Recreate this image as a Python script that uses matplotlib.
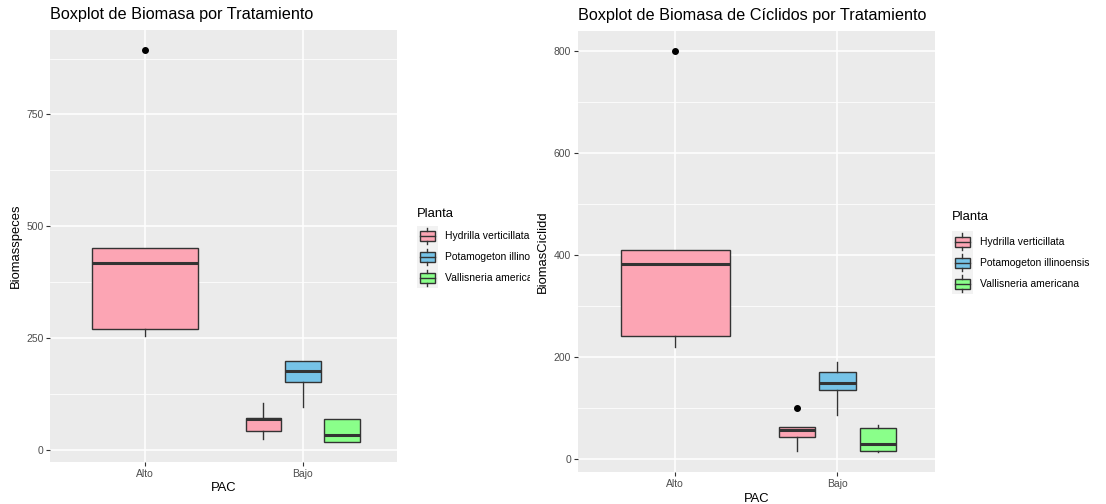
import matplotlib
matplotlib.use("Agg")
import matplotlib.pyplot as plt
import numpy as np
from matplotlib.patches import Rectangle
from matplotlib.lines import Line2D
from matplotlib.legend_handler import HandlerBase

plt.rcParams['font.family'] = ['Liberation Sans', 'DejaVu Sans']

# datos
pac_niveles = ["Alto", "Bajo"]
pac = ["Alto", "Bajo", "Bajo", "Bajo"]
planta = ["Hydrilla verticillata", "Hydrilla verticillata",
          "Potamogeton illinoensis", "Vallisneria americana"]
plantas = ["Hydrilla verticillata", "Potamogeton illinoensis", "Vallisneria americana"]
colores = ["#FCA5B4", "#76C3E7", "#8AFF8A"]

# Biomasspeces
esp_q1 = [270, 43, 153, 17]
esp_med = [418, 69, 176, 34]
esp_q3 = [451, 72, 198, 69]
esp_lo = [254, 24, 95, 17]
esp_hi = [451, 104, 198, 69]
esp_out = [[895], [], [], []]
esp_ticks = [0, 250, 500, 750]

# BiomasCiclidd
cic_q1 = [241, 43, 134, 15]
cic_med = [382, 56, 149, 29]
cic_q3 = [409, 62, 170, 60]
cic_lo = [220, 15, 85, 13]
cic_hi = [409, 62, 190, 66]
cic_out = [[800], [99], [], []]
cic_ticks = [0, 200, 400, 600, 800]

W, H = 1106, 504
GRIS = "#333333"


def stats(q1, med, q3, lo, hi, out):
    return [dict(q1=a, med=b, q3=c, whislo=d, whishi=e, fliers=f)
            for a, b, c, d, e, f in zip(q1, med, q3, lo, hi, out)]


def posiciones():
    # dodge estilo ggplot: ancho total 0.75, caja 0.9 del hueco
    pos, anchos = [], []
    for i, p in enumerate(pac):
        grupo = [j for j, x in enumerate(pac) if x == p]
        n = len(grupo)
        k = grupo.index(i)
        hueco = 0.75 / n
        c = pac_niveles.index(p) + 1
        pos.append(c - 0.375 + hueco * (k + 0.5))
        anchos.append(0.9 * hueco)
    return pos, anchos


class HandlerCaja(HandlerBase):
    def create_artists(self, legend, orig_handle, xdescent, ydescent,
                       width, height, fontsize, trans):
        x0, y0 = -xdescent, -ydescent
        fondo = Rectangle((x0, y0), width, height, facecolor="#F2F2F2",
                          edgecolor="none", transform=trans)
        caja = Rectangle((x0 + 0.125 * width, y0 + 0.25 * height), 0.75 * width,
                         0.5 * height, facecolor=orig_handle.get_facecolor(),
                         edgecolor=GRIS, lw=1.0, transform=trans)
        xm = x0 + 0.5 * width
        med = Line2D([x0 + 0.125 * width, x0 + 0.875 * width], [y0 + 0.5 * height] * 2,
                     color=GRIS, lw=1.0, transform=trans)
        b1 = Line2D([xm, xm], [y0 + 0.1 * height, y0 + 0.25 * height],
                    color=GRIS, lw=1.0, transform=trans)
        b2 = Line2D([xm, xm], [y0 + 0.75 * height, y0 + 0.9 * height],
                    color=GRIS, lw=1.0, transform=trans)
        return [fondo, caja, med, b1, b2]


def panel(ax, st, yticks, titulo, ylab, leg_xy, leg_sep, ylab_x, xlab_y):
    ax.set_facecolor("#EBEBEB")
    pos, w = posiciones()
    bp = ax.bxp(st, positions=pos, widths=w, patch_artist=True, showcaps=False,
                boxprops=dict(edgecolor=GRIS, linewidth=1.0),
                medianprops=dict(color=GRIS, linewidth=2.2, solid_capstyle='butt'),
                whiskerprops=dict(color=GRIS, linewidth=1.0),
                flierprops=dict(marker='o', markerfacecolor='black',
                                markeredgecolor='black', markersize=4.0),
                manage_ticks=False, zorder=3)
    for patch, p in zip(bp['boxes'], planta):
        patch.set_facecolor(colores[plantas.index(p)])

    ax.set_yticks(yticks)
    paso = yticks[1] - yticks[0]
    ax.set_yticks([t + paso / 2 for t in [yticks[0] - paso] + yticks], minor=True)
    ax.set_xticks(range(1, len(pac_niveles) + 1))
    ax.set_xticklabels(pac_niveles)

    vals = [s['whislo'] for s in st] + [s['whishi'] for s in st] + \
        [v for s in st for v in s['fliers']]
    lo, hi = min(vals), max(vals)
    r = hi - lo
    ax.set_ylim(lo - 0.05 * r, hi + 0.05 * r)
    ax.set_xlim(0.4, len(pac_niveles) + 0.6)

    ax.grid(which='major', color='white', linewidth=1.1)
    ax.grid(which='minor', axis='y', color='white', linewidth=0.55)
    ax.set_axisbelow(True)
    for s in ax.spines.values():
        s.set_visible(False)
    ax.tick_params(which='major', length=3, width=0.8, color=GRIS,
                   labelcolor="#4D4D4D", labelsize=7.5, pad=2)
    ax.tick_params(which='minor', length=0)

    ax.set_title(titulo, loc='left', fontsize=11.7, pad=8)
    ax.set_ylabel(ylab, fontsize=9.4)
    ax.set_xlabel("PAC", fontsize=9.4, va='top')
    ax.yaxis.set_label_coords(ylab_x, 0.5)
    ax.xaxis.set_label_coords(0.5, xlab_y)

    handles = [Rectangle((0, 0), 1, 1, facecolor=c) for c in colores]
    leg = ax.legend(handles, plantas, title="Planta", loc='upper left',
                    bbox_to_anchor=(leg_xy[0] / W, 1 - leg_xy[1] / H),
                    bbox_transform=ax.figure.transFigure, frameon=False,
                    fontsize=7.5, title_fontsize=9.4, handlelength=2.0,
                    handleheight=2.72, labelspacing=0, handletextpad=0.65,
                    borderpad=0, borderaxespad=0, alignment='left',
                    handler_map={h: HandlerCaja() for h in handles})
    leg._legend_box.sep = leg_sep
    return leg


fig = plt.figure(figsize=(W / 100, H / 100), dpi=100)
ax1 = fig.add_axes([50.4 / W, 42 / H, 347 / W, 432 / H], zorder=0)
ax2 = fig.add_axes([578 / W, 32 / H, 356.5 / W, 441 / H], zorder=1)

panel(ax1, stats(esp_q1, esp_med, esp_q3, esp_lo, esp_hi, esp_out), esp_ticks,
      "Boxplot de Biomasa por Tratamiento", "Biomasspeces", (417, 208), 4,
      -0.082, -0.046)
panel(ax2, stats(cic_q1, cic_med, cic_q3, cic_lo, cic_hi, cic_out), cic_ticks,
      "Boxplot de Biomasa de Cíclidos por Tratamiento", "BiomasCiclidd", (952, 211), 6,
      -0.081, -0.047)

# la segunda grafica tapa el final de la leyenda de la primera
fig.add_artist(Rectangle((530 / W, 0), 1, 1, transform=fig.transFigure,
                         facecolor='white', edgecolor='none', zorder=0.5))

fig.savefig("out.png", dpi=100)
